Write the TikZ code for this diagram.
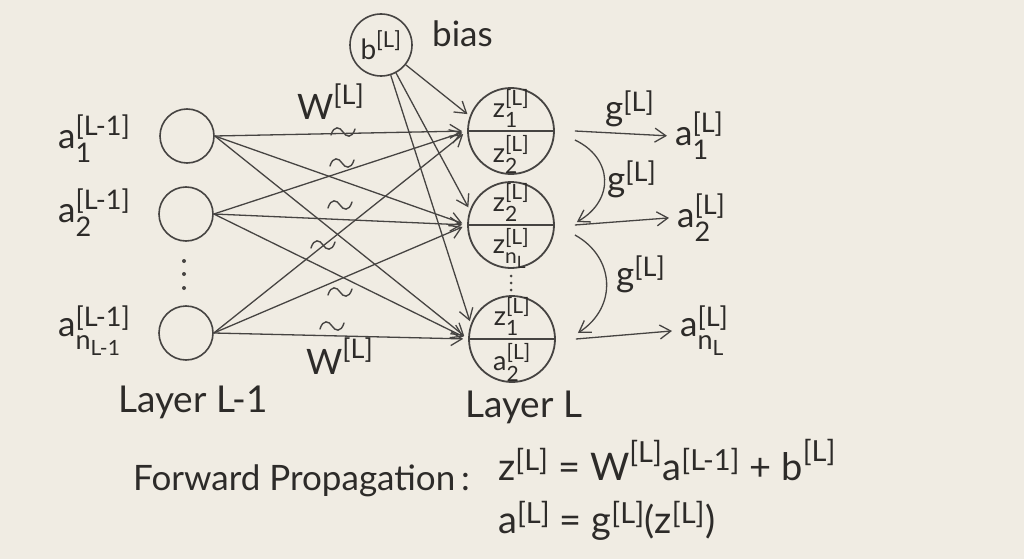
\documentclass[tikz,border=0pt]{standalone}
\usepackage{fontspec}
\usepackage{amsmath}
\setmainfont{Lato}
\DeclareMathSizes{38}{38}{29}{23}
\DeclareMathSizes{35}{35}{27}{21}
\DeclareMathSizes{27}{27}{21}{17}
\DeclareMathSizes{28}{28}{22}{17}
\usetikzlibrary{arrows.meta}
\definecolor{paper}{RGB}{240,236,227}
\definecolor{ink}{RGB}{45,43,41}
\definecolor{pencil}{RGB}{70,68,66}
\newcommand{\tx}[1]{\text{#1}}
\newcommand{\dn}[2][4pt]{\lower#1\hbox{$\scriptstyle #2$}}
\begin{document}
\begin{tikzpicture}[x=1pt,y=-1pt,
  lbl/.style={text=ink,inner sep=0pt,font=\fontsize{35}{40}\selectfont},
  biglbl/.style={text=ink,inner sep=0pt,font=\fontsize{38}{44}\selectfont},
  ztext/.style={text=ink,inner sep=0pt,font=\fontsize{27}{32}\selectfont},
  leftnode/.style={circle,draw=pencil,line width=1.6pt,minimum size=54pt,inner sep=0pt},
  rightnode/.style={circle,draw=pencil,line width=1.8pt,minimum size=86pt,inner sep=0pt},
  biasnode/.style={circle,draw=pencil,line width=1.6pt,minimum size=62pt,inner sep=0pt,text=ink,font=\fontsize{28}{32}\selectfont},
  dotnode/.style={circle,fill=pencil,minimum size=4pt,inner sep=0pt},
  divider/.style={draw=pencil,line width=1.5pt},
  conn/.style={draw=pencil,line width=1.3pt,-{Straight Barb[length=11pt,width=14pt,line width=1.3pt]}},
  tildemark/.pic={\draw[pencil,line width=1.4pt,line cap=round] (-12,3) .. controls (-9,-7) and (-3,-5) .. (0,0) .. controls (3,5) and (9,7) .. (12,-3);}
]
\fill[paper] (0,0) rectangle (1024,559);
\useasboundingbox (0,0) rectangle (1024,559);

% Layer L-1 nodes
\node[leftnode] (L1) at (187,136) {};
\node[leftnode] (L2) at (186,214) {};
\node[leftnode] (L3) at (186,333) {};
\node[dotnode] (LD1) at (184,261) {};
\node[dotnode] (LD2) at (184,274) {};
\node[dotnode] (LD3) at (184,288) {};

\node[lbl,anchor=base west] (A1) at (58,148) {$\tx{a}^{\tx{[L-1]}}_{\tx{1}}$};
\node[lbl,anchor=base west] (A2) at (58,222) {$\tx{a}^{\tx{[L-1]}}_{\tx{2}}$};
\node[lbl,anchor=base west] (A3) at (58,336) {$\tx{a}^{\tx{[L-1]}}_{\dn[7pt]{\tx{n}_{\tx{L-1}}}}$};

% bias
\node[biasnode] (B) at (381,45) {$\tx{b}^{\tx{[L]}}$};
\node[lbl,anchor=base west] (BL) at (432,47) {bias};

% Layer L nodes
\node[rightnode] (R1) at (511,131) {};
\node[rightnode] (R2) at (511,225) {};
\node[rightnode] (R3) at (512,339) {};
\draw[divider] (R1.west) -- (R1.east);
\draw[divider] (R2.west) -- (R2.east);
\draw[divider] (R3.west) -- (R3.east);
\node[ztext,anchor=south] (R1a) at ([yshift=3pt]R1.center) {$\tx{z}^{\tx{[L]}}_{\tx{1}}$};
\node[ztext,anchor=north] (R1b) at ([yshift=-4pt]R1.center) {$\tx{z}^{\tx{[L]}}_{\tx{2}}$};
\node[ztext,anchor=south] (R2a) at ([yshift=3pt]R2.center) {$\tx{z}^{\tx{[L]}}_{\tx{2}}$};
\node[ztext,anchor=north] (R2b) at ([yshift=-3pt]R2.center) {$\tx{z}^{\tx{[L]}}_{\dn{\tx{n}_{\tx{L}}}}$};
\node[ztext,anchor=south] (R3a) at ([yshift=3pt]R3.center) {$\tx{z}^{\tx{[L]}}_{\tx{1}}$};
\node[ztext,anchor=north] (R3b) at ([yshift=-4pt]R3.center) {$\tx{a}^{\tx{[L]}}_{\tx{2}}$};
\node[dotnode,minimum size=3pt] (RD1) at (511,276) {};
\node[dotnode,minimum size=3pt] (RD2) at (511,283) {};
\node[dotnode,minimum size=3pt] (RD3) at (511,290) {};

% weights
\foreach \s in {L1,L2,L3}
  \foreach \t in {R1,R2,R3}
    \draw[conn,shorten >=5pt] (\s.east) -- (\t.west);
\foreach \t in {R1,R2,R3}
  \draw[conn,shorten >=3pt] (B) -- (\t.160);

\node[lbl,anchor=base west] (W1) at (297,120) {$\tx{W}^{\tx{[L]}}$};
\node[lbl,anchor=base west] (W2) at (306,374) {$\tx{W}^{\tx{[L]}}$};
\pic at (343,132) {tildemark};
\pic at (342,163) {tildemark};
\pic at (340,205) {tildemark};
\pic at (323,245) {tildemark};
\pic at (340,292) {tildemark};
\pic at (332,326) {tildemark};

% outputs
\node[lbl,anchor=base west] (O1) at (675,145) {$\tx{a}^{\tx{[L]}}_{\tx{1}}$};
\node[lbl,anchor=base west] (O2) at (677,227) {$\tx{a}^{\tx{[L]}}_{\tx{2}}$};
\node[lbl,anchor=base west] (O3) at (680,336) {$\tx{a}^{\tx{[L]}}_{\dn[7pt]{\tx{n}_{\tx{L}}}}$};
\draw[conn] ([xshift=20pt]R1.east) -- ([xshift=-8pt]O1.west);
\draw[conn] ([xshift=20pt]R2.east) -- ([xshift=-8pt]O2.west);
\draw[conn] ([xshift=20pt]R3.east) -- ([xshift=-8pt]O3.west);
\draw[conn] ([shift={(20,9)}]R1.east) .. controls +(38,18) and +(38,-22) .. ([shift={(22,-3)}]R2.east);
\draw[conn] ([shift={(20,10)}]R2.east) .. controls +(40,22) and +(40,-26) .. ([shift={(22,-6)}]R3.east);
\node[lbl,anchor=base west] (G1) at (605,121) {$\tx{g}^{\tx{[L]}}$};
\node[lbl,anchor=base west] (G2) at (607,191) {$\tx{g}^{\tx{[L]}}$};
\node[lbl,anchor=base west] (G3) at (616,286) {$\tx{g}^{\tx{[L]}}$};

% layer captions
\node[lbl,anchor=base west,font=\fontsize{37}{42}\selectfont] (LL1) at (118,412) {Layer L-1};
\node[lbl,anchor=base west,font=\fontsize{37}{42}\selectfont] (LL2) at (465,417) {Layer L};

% formulas
\node[biglbl,anchor=base west,font=\fontsize{35}{40}\selectfont] (FP) at (133,490) {Forward Propagation\,:};
\node[biglbl,anchor=base west] (EQ1) at (498,480) {$\tx{z}^{\tx{[L]}}\tx{ = }\tx{W}^{\tx{[L]}}\tx{a}^{\tx{[L-1]}}\tx{ + }\tx{b}^{\tx{[L]}}$};
\node[biglbl,anchor=base west] (EQ2) at (498,533) {$\tx{a}^{\tx{[L]}}\tx{ = }\tx{g}^{\tx{[L]}}\tx{(}\tx{z}^{\tx{[L]}}\tx{)}$};
\end{tikzpicture}
\end{document}
